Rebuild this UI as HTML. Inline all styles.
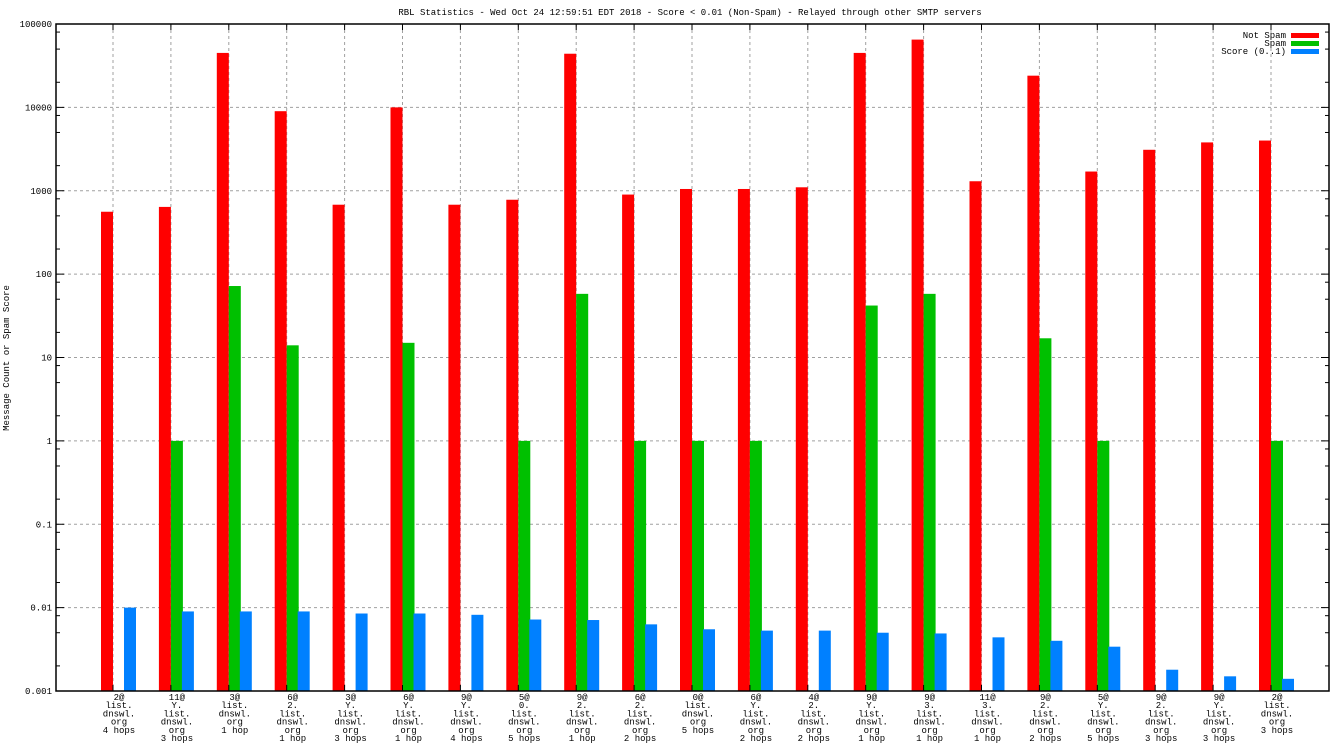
<!DOCTYPE html>
<html><head><meta charset="utf-8"><style>
body{margin:0;background:#fff}
svg{display:block}
text{font-family:"Liberation Mono","DejaVu Sans Mono",monospace;font-size:9px;fill:#000}
</style></head><body>
<svg id="chart" width="1344" height="756" xmlns="http://www.w3.org/2000/svg">
<text x="690" y="15" text-anchor="middle">RBL Statistics - Wed Oct 24 12:59:51 EDT 2018 - Score &lt; 0.01 (Non-Spam) - Relayed through other SMTP servers</text>
<text transform="translate(9,358) rotate(-90)" text-anchor="middle">Message Count or Spam Score</text>
<g id="grid"></g><g id="bars"></g><g id="axes"></g><g id="labels"></g>
<g>
<text x="1286" y="38" text-anchor="end">Not Spam</text><rect x="1291" y="33" width="28" height="5" fill="#ff0000"/>
<text x="1286" y="46" text-anchor="end">Spam</text><rect x="1291" y="41" width="28" height="5" fill="#00c000"/>
<text x="1286" y="54" text-anchor="end">Score (0..1)</text><rect x="1291" y="49" width="28" height="5" fill="#0080ff"/>
</g>
</svg>
<script>
const categories=["2@|list.|dnswl.|org|4 hops","11@|Y.|list.|dnswl.|org|3 hops","3@|list.|dnswl.|org|1 hop","6@|2.|list.|dnswl.|org|1 hop","3@|Y.|list.|dnswl.|org|3 hops","6@|Y.|list.|dnswl.|org|1 hop","9@|Y.|list.|dnswl.|org|4 hops","5@|0.|list.|dnswl.|org|5 hops","9@|2.|list.|dnswl.|org|1 hop","6@|2.|list.|dnswl.|org|2 hops","0@|list.|dnswl.|org|5 hops","6@|Y.|list.|dnswl.|org|2 hops","4@|2.|list.|dnswl.|org|2 hops","9@|Y.|list.|dnswl.|org|1 hop","9@|3.|list.|dnswl.|org|1 hop","11@|3.|list.|dnswl.|org|1 hop","9@|2.|list.|dnswl.|org|2 hops","5@|Y.|list.|dnswl.|org|5 hops","9@|2.|list.|dnswl.|org|3 hops","9@|Y.|list.|dnswl.|org|3 hops","2@|list.|dnswl.|org|3 hops"];
const notSpam=[560,640,45000,9000,680,10000,680,780,44000,900,1050,1050,1100,45000,65000,1300,24000,1700,3100,3800,4000];
const spam=[null,1,72,14,null,15,null,1,58,1,1,1,null,42,58,null,17,1,null,null,1];
const score=[0.01,0.009,0.009,0.009,0.0085,0.0085,0.0082,0.0072,0.0071,0.0063,0.0055,0.0053,0.0053,0.005,0.0049,0.0044,0.004,0.0034,0.0018,0.0015,0.0014];
const yTicks=["100000","10000","1000","100","10","1","0.1","0.01","0.001"];
const NS="http://www.w3.org/2000/svg";
const L=56,R=1329,T=24,B=691;
const y=v=>T+(5-Math.log10(v))*(B-T)/8;
const gx=i=>101+i*57.9;
function mk(tag,attrs,parent){const e=document.createElementNS(NS,tag);for(const k in attrs)e.setAttribute(k,attrs[k]);document.getElementById(parent).appendChild(e);return e;}
// grid
yTicks.forEach(t=>{const yy=y(parseFloat(t));
 if(yy>T+1&&yy<B-1){const g=mk('line',{x1:L,x2:R,y1:yy,y2:yy,stroke:'#a0a0a0','stroke-dasharray':'3,3'},'grid');
 
 }
 const tx=mk('text',{x:L-4,y:yy+3,'text-anchor':'end'},'axes');tx.textContent=t;
 
 
 mk('line',{x1:L,x2:L+8,y1:yy,y2:yy,stroke:'#000'},'axes');
 mk('line',{x1:R-8,x2:R,y1:yy,y2:yy,stroke:'#000'},'axes');
 [2,5,8].forEach(m=>{const my=y(parseFloat(t)*m);if(my>T&&my<B){mk('line',{x1:L,x2:L+4,y1:my,y2:my,stroke:'#000'},'axes');mk('line',{x1:R-4,x2:R,y1:my,y2:my,stroke:'#000'},'axes');}});
});
categories.forEach((c,i)=>{const xx=113+i*57.9;
 if(i<21){const g=mk('line',{x1:xx,x2:xx,y1:T,y2:B,stroke:'#a0a0a0','stroke-dasharray':'3,3'},'grid');
 
 
 mk('line',{x1:xx,x2:xx,y1:T,y2:T+6,stroke:'#000'},'axes');mk('line',{x1:xx,x2:xx,y1:B-6,y2:B,stroke:'#000'},'axes');}
 const cx=gx(i)+18;
 const t=mk('text',{x:cx,y:700,'text-anchor':'middle'},'labels');
 
 
 c.split('|').forEach((ln,k)=>{const s=document.createElementNS(NS,'tspan');s.setAttribute('x',cx);s.setAttribute('dy',k?8.2:0);s.textContent=ln;t.appendChild(s);});
});
function bar(v,x,col,name){if(v==null)return;const top=y(v);const r=mk('rect',{x:x,y:top,width:12,height:B-top,fill:col},'bars');
 
 }
categories.forEach((c,i)=>{bar(notSpam[i],gx(i),'#ff0000','bar-not-spam');bar(spam[i],gx(i)+12,'#00c000','bar-spam');bar(score[i],gx(i)+23,'#0080ff','bar-score');});
const f=mk('rect',{x:L,y:T,width:R-L,height:B-T,fill:'none',stroke:'#000','stroke-width':1.5},'axes');


</script>
</body></html>
